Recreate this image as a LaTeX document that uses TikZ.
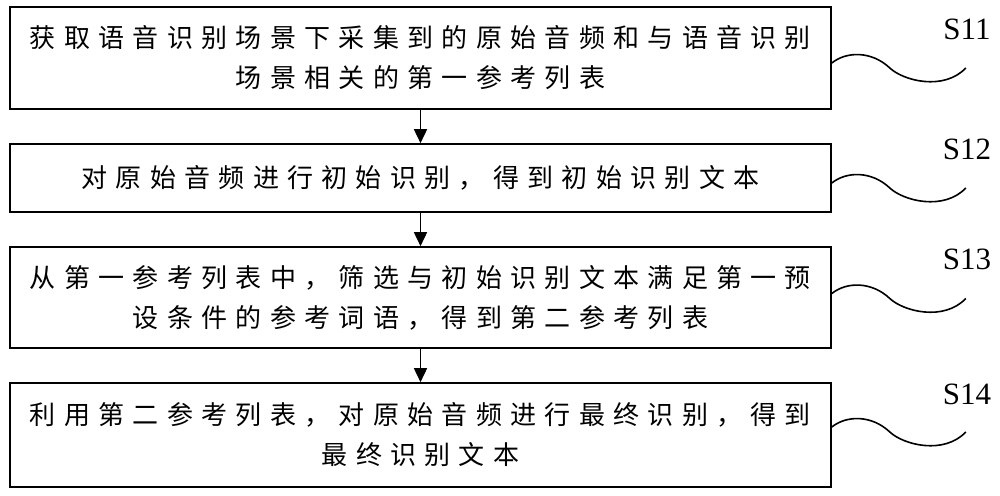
\documentclass[tikz,border=0pt]{standalone}
\usepackage{fontspec}
\setmainfont{Liberation Serif}
\newfontfamily\cjk[LetterSpace=32]{Noto Sans CJK SC}
\usetikzlibrary{arrows.meta}
\tikzset{
  stepbox/.style={draw, line width=1.6pt, minimum width=821pt, inner sep=0pt,
    font=\cjk\fontsize{26}{40}\selectfont, align=center},
  flow/.style={line width=1.6pt, -{Triangle[length=14pt,width=13pt]}},
  wavey/.style={line width=1.6pt},
  steplabel/.style={font=\fontsize{31}{36}\selectfont, inner sep=0pt}
}
\newcommand\leaderwave[2]{%
  \begin{scope}[shift={(#1.east)}]
    \draw[wavey] (0,#2) .. controls (15,#2-12) and (40,#2-12) .. (58,#2+5)
      .. controls (72,#2+18) and (112,#2+28) .. (134,#2+5) coordinate (#1w);
  \end{scope}}
\begin{document}
\begin{tikzpicture}[x=1pt,y=-1pt]
\useasboundingbox (0,0) rectangle (1000,495);
\node[stepbox, minimum height=102pt] (b1) at (420.5,58)
  {获取语音识别场景下采集到的原始音频和与语音识别\\场景相关的第一参考列表};
\node[stepbox, minimum height=68pt] (b2) at (420.5,178)
  {对原始音频进行初始识别，得到初始识别文本};
\node[stepbox, minimum height=101pt] (b3) at (420.5,297.5)
  {从第一参考列表中，筛选与初始识别文本满足第一预\\设条件的参考词语，得到第二参考列表};
\node[stepbox, minimum height=104pt] (b4) at (420.5,435)
  {利用第二参考列表，对原始音频进行最终识别，得到\\最终识别文本};
\draw[flow] (b1) -- (b2);
\draw[flow] (b2) -- (b3);
\draw[flow] (b3) -- (b4);
\leaderwave{b1}{5}
\leaderwave{b2}{5}
\leaderwave{b3}{-4}
\leaderwave{b4}{-8}
\node[steplabel] (s11) at (967,29) {S11};
\node[steplabel] (s12) at (967,149) {S12};
\node[steplabel] (s13) at (967,259) {S13};
\node[steplabel] (s14) at (967,394) {S14};
\end{tikzpicture}
\end{document}
